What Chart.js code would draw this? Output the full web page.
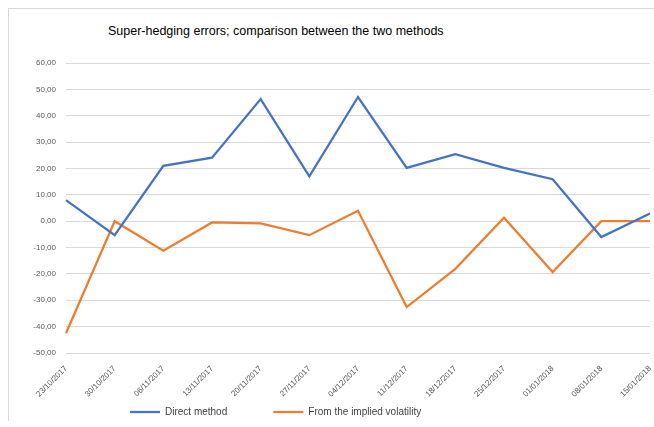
<!DOCTYPE html>
<html>
<head>
<meta charset="utf-8">
<script src="https://cdn.jsdelivr.net/npm/chart.js@4/dist/chart.umd.min.js"></script>
<style>
  html, body { margin: 0; padding: 0; background: #fff; }
  .wrap { position: relative; width: 654px; height: 427px; overflow: hidden; }
  .frame { position: absolute; left: 8px; top: 8px; width: 660px; height: 412px;
           border-top: 1px solid #d9d9d9; border-left: 1px solid #d9d9d9; }
  .title { position: absolute; left: 108px; top: 24px; font: 12.5px "Liberation Sans", Arial, sans-serif; color: #000; }
  canvas { position: absolute; left: 0; top: 0; }
</style>
</head>
<body>
<div class="wrap">
  <div class="frame"></div>
  <div class="title">Super-hedging errors; comparison between the two methods</div>
  <canvas id="chart-line" width="654" height="427"></canvas>
</div>
<script>
const dates = ["23/10/2017", "30/10/2017", "06/11/2017", "13/11/2017", "20/11/2017", "27/11/2017",
  "04/12/2017", "11/12/2017", "18/12/2017", "25/12/2017", "01/01/2018", "08/01/2018", "15/01/2018"];
const directMethod = [8.0, -5.3, 21.0, 24.1, 46.3, 17.0, 47.1, 20.2, 25.4, 20.2, 15.9, -6.0, 2.9];
const impliedVol = [-42.5, 0.0, -11.2, -0.5, -0.8, -5.3, 4.0, -32.6, -18.1, 1.3, -19.3, 0.0, 0.0];
const yMin = -50;
const yMax = 60;
const yStep = 10;

// legend sits left of centre in the original, move it after layout
const legendShift = {
  id: "legendShift",
  afterLayout(chart) {
    const lg = chart.legend;
    const w = lg.right - lg.left;
    lg.left = 120;
    lg.right = 120 + w;
  },
};

var ctx1 = document.getElementById("chart-line").getContext("2d");
new Chart(ctx1, {
  type: "line",
  data: {
    labels: dates,
    datasets: [
      {
        label: "Direct method",
        data: directMethod,
        borderColor: "#4472C4",
        backgroundColor: "#4472C4",
        borderWidth: 2.25,
        pointRadius: 0,
        tension: 0,
        fill: false,
      },
      {
        label: "From the implied volatility",
        data: impliedVol,
        borderColor: "#ED7D31",
        backgroundColor: "#ED7D31",
        borderWidth: 2.25,
        pointRadius: 0,
        tension: 0,
        fill: false,
      },
    ],
  },
  plugins: [legendShift],
  options: {
    responsive: false,
    animation: false,
    layout: {
      padding: { top: 63, right: 4, bottom: 0, left: 0 },
    },
    plugins: {
      legend: {
        position: "bottom",
        align: "start",
        labels: {
          usePointStyle: true,
          pointStyle: "line",
          pointStyleWidth: 30,
          padding: 10,
          color: "#404040",
          font: { size: 10, family: "Liberation Sans" },
          generateLabels: (chart) => {
            const items = Chart.defaults.plugins.legend.labels.generateLabels(chart);
            items[0].text += "             ";
            return items;
          },
        },
      },
      title: { display: false },
      tooltip: { enabled: false },
    },
    scales: {
      y: {
        min: yMin,
        max: yMax,
        afterFit: (scale) => { scale.width = 66; },
        border: { display: false },
        grid: { color: "#d9d9d9", drawTicks: false },
        ticks: {
          stepSize: yStep,
          padding: 10,
          color: "#595959",
          font: { size: 8, family: "Liberation Sans" },
          callback: (v) => v.toFixed(2).replace(".", ","),
        },
      },
      x: {
        offset: false,
        border: { display: false },
        grid: { display: false },
        afterFit: (scale) => {
          scale.height = 44;
          scale.paddingRight = 0;
        },
        ticks: {
          minRotation: 45,
          maxRotation: 45,
          autoSkip: false,
          padding: 3,
          color: "#595959",
          font: { size: 8, family: "Liberation Sans" },
        },
      },
    },
  },
});
</script>
</body>
</html>
